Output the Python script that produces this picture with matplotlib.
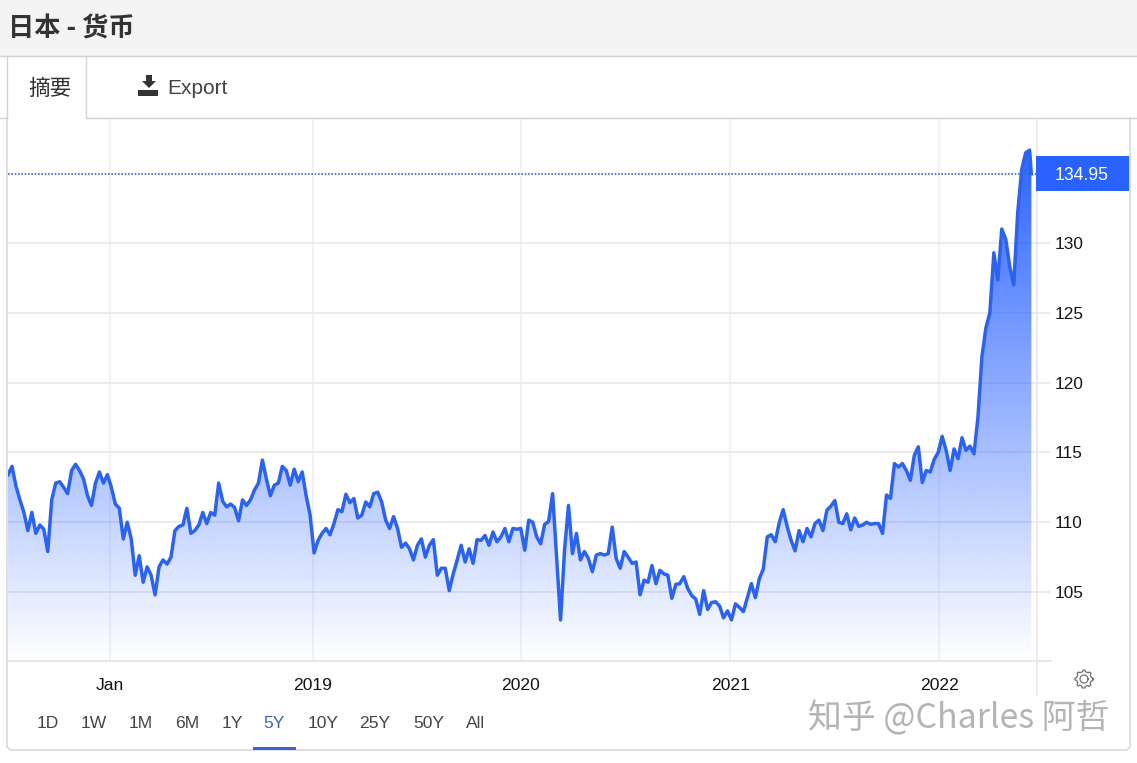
import matplotlib
matplotlib.use("Agg")
import matplotlib.pyplot as plt
import matplotlib.dates as mdates
from matplotlib.patches import Polygon, Rectangle
import numpy as np
import pandas as pd

plt.rcParams["font.family"] = ["Liberation Sans", "DejaVu Sans"]
CJK = ["Noto Sans CJK SC", "DejaVu Sans"]

# weekly USD/JPY, the last one is the latest quote
usd_jpy = [
    113.4, 114.0, 112.6, 111.6, 110.7, 109.4, 110.7, 109.2, 109.8, 109.5,
    107.9, 111.6, 112.8, 112.9, 112.5, 112.05, 113.7, 114.15, 113.7, 113.1,
    111.9, 111.2, 112.8, 113.6, 112.8, 113.4, 112.5, 111.3, 111.0, 108.8,
    110.0, 108.8, 106.2, 107.6, 105.7, 106.8, 106.2, 104.8, 106.8, 107.3,
    107.0, 107.5, 109.4, 109.7, 109.8, 111.0, 109.2, 109.4, 109.8, 110.7,
    109.9, 110.7, 110.5, 112.8, 111.5, 111.1, 111.3, 111.05, 110.1, 111.6,
    111.2, 111.6, 112.3, 112.8, 114.45, 113.1, 111.9, 112.65, 112.8, 114.0,
    113.7, 112.65, 113.8, 112.9, 113.6, 111.9, 110.5, 107.8, 108.7, 109.2,
    109.55, 109.1, 109.9, 110.9, 110.75, 112.0, 111.4, 111.7, 110.3, 110.5,
    111.45, 111.1, 112.05, 112.15, 111.45, 110.15, 109.55, 110.4, 109.55, 108.2,
    108.5, 108.1, 107.3, 108.35, 108.8, 107.5, 108.35, 108.75, 106.2, 106.7,
    106.7, 105.1, 106.3, 107.3, 108.35, 107.15, 108.1, 107.05, 108.75, 108.7,
    109.05, 108.35, 109.3, 108.6, 108.95, 109.55, 108.6, 109.55, 109.5, 109.55,
    108.0, 110.15, 110.0, 108.95, 108.45, 109.85, 110.05, 112.05, 107.5, 103.0,
    108.0, 111.2, 107.75, 109.2, 107.3, 107.9, 107.4, 106.45, 107.65, 107.75,
    107.65, 107.75, 109.65, 107.4, 106.7, 107.9, 107.5, 107.05, 107.15, 104.8,
    105.85, 105.7, 106.9, 105.6, 106.55, 106.3, 106.2, 104.55, 105.55, 105.6,
    106.1, 105.25, 104.75, 104.5, 103.4, 105.1, 103.75, 104.25, 104.3, 104.0,
    103.15, 103.65, 103.0, 104.15, 103.9, 103.6, 104.6, 105.6, 104.6, 105.95,
    106.65, 108.95, 109.1, 108.6, 109.95, 110.9, 109.7, 108.7, 107.95, 109.4,
    108.6, 109.55, 108.95, 109.9, 110.15, 109.4, 110.85, 111.15, 111.55, 110.0,
    109.9, 110.6, 109.45, 110.3, 109.7, 109.8, 110.0, 109.85, 109.9, 109.9,
    109.2, 111.95, 111.7, 114.2, 113.95, 114.2, 113.7, 113.0, 114.8, 115.4,
    112.85, 113.7, 113.6, 114.5, 115.0, 116.15, 115.15, 113.7, 115.25, 114.55,
    116.05, 115.15, 115.45, 114.9, 117.5, 121.85, 123.9, 125.0, 129.3, 127.35,
    131.0, 130.25, 128.3, 127.0, 132.15, 135.25, 136.45, 136.65, 134.95,
]
last_price = 134.95

start_date = pd.Timestamp("2017-07-06")
x_tick_dates = ["2018-01-01", "2018-12-25", "2019-12-26", "2020-12-29", "2022-01-01"]
x_tick_labels = ["Jan", "2019", "2020", "2021", "2022"]
y_ticks = [105, 110, 115, 120, 125, 130]
range_labels = ["1D", "1W", "1M", "6M", "1Y", "5Y", "10Y", "25Y", "50Y", "All"]
range_centers = [48, 94, 141, 187, 232, 274, 323, 375, 429, 476]

W, H = 1137, 763
BLUE = "#2962ff"
GRID = "#e7e7ea"

dates = [start_date + pd.Timedelta(days=7 * i) for i in range(len(usd_jpy) - 1)]
dates.append(dates[-1] + pd.Timedelta(days=3))
x = mdates.date2num(dates)
x0 = mdates.date2num(start_date)
x1 = x0 + 1812

fig = plt.figure(figsize=(W / 100, H / 100), dpi=100, facecolor="white")

# chart area, pixel box 8..1037 by 118..661
ax = fig.add_axes([8 / W, 1 - 661 / H, 1029 / W, 543 / H], zorder=2)
ax.patch.set_alpha(0)
for s in ax.spines.values():
    s.set_visible(False)
ax.set_xlim(x0, x1)
ax.set_ylim(100.06, 138.95)

ax.set_yticks(y_ticks)
ax.yaxis.tick_right()
ax.set_xticks(mdates.date2num(pd.to_datetime(x_tick_dates)))
ax.set_xticklabels(x_tick_labels)
ax.tick_params(axis="y", length=9.6, width=1.1, color=GRID, pad=3.2,
               labelsize=12.4, labelcolor="#151515")
ax.tick_params(axis="x", length=0, pad=12.2, labelsize=12.6, labelcolor="#111111")
ax.grid(axis="y", color=GRID, lw=1.2, zorder=0)
ax.grid(axis="x", color="#f2f3f6", lw=1.5, zorder=0)
ax.set_axisbelow(True)

# area under the line fades out towards the bottom
grad = np.zeros((256, 1, 4))
grad[:, :, :3] = matplotlib.colors.to_rgb(BLUE)
grad[:, 0, 3] = np.linspace(1, 0, 256)
img = ax.imshow(grad, aspect="auto", extent=(x0, x1, 100.06, 137.0),
                interpolation="bilinear", zorder=1)
area = Polygon(np.column_stack([np.r_[x, x[-1], x[0]], np.r_[usd_jpy, 100.06, 100.06]]),
               transform=ax.transData, facecolor="none", edgecolor="none")
ax.add_patch(area)
img.set_clip_path(area)
ax.set_xlim(x0, x1)
ax.set_ylim(100.06, 138.95)

ax.plot(x, usd_jpy, color="#2c63ee", lw=2.5, solid_joinstyle="round", zorder=3)
ax.axhline(last_price, color="#4068b0", lw=1.2, ls=(0, (1, 1)), zorder=4)

# page furniture around the chart, in pixels
ui = fig.add_axes([0, 0, 1, 1], zorder=3)
ui.set_xlim(0, W)
ui.set_ylim(H, 0)
ui.axis("off")
ui.patch.set_alpha(0)

LINE = "#d2d2d2"
ui.add_patch(Rectangle((0, 0), W, 56, facecolor="#f4f4f4", edgecolor="none"))
ui.plot([0, W], [56, 56], color=LINE, lw=1)
ui.plot([7, 7], [56, 118], color=LINE, lw=1)
ui.plot([86, 86], [56, 118], color=LINE, lw=1)
ui.plot([0, 7], [118, 118], color=LINE, lw=1)
ui.plot([86, W], [118, 118], color=LINE, lw=1)
ui.plot([7, 7, 10, 1127, 1130, 1130], [118, 747, 750, 750, 747, 118], color=LINE, lw=1)

ui.plot([1037, 1037], [118, 695], color=GRID, lw=1.2)
ui.plot([8, 1051], [661, 661], color=GRID, lw=1.4)

ui.text(8, 29, "日本 - 货币", family=CJK, fontsize=18.9, fontweight="bold",
        color="#333333", va="center", ha="left")
ui.text(50, 89, "摘要", family=CJK, fontsize=15.6, color="#333333", va="center", ha="center")
ui.text(167, 89, "Export", fontsize=15, color="#444444", va="center", ha="left")

# download icon
ui.add_patch(Polygon([(146, 75), (152, 75), (152, 81), (156, 81), (149, 88), (142, 81), (146, 81)],
                     facecolor="#333333", edgecolor="none"))
ui.add_patch(Rectangle((138, 90), 20, 6, facecolor="#333333", edgecolor="none"))

# latest price flag
ui.add_patch(Rectangle((1036, 156), 93, 35, facecolor=BLUE, edgecolor="none", zorder=3))
ui.text(1082, 176, f"{last_price:.2f}", color="white", fontsize=12.7, ha="center", va="center", zorder=4)

# range selector
for label, cx in zip(range_labels, range_centers):
    ui.text(cx, 724, label, fontsize=12.6, ha="center", va="center",
            color="#3f62c4" if label == "5Y" else "#444444")
ui.add_patch(Rectangle((253, 747), 43, 3, facecolor="#3a62d0", edgecolor="none", zorder=3))

# settings gear
a = np.linspace(0, 2 * np.pi, 65)
r = 9 - 1.6 * (np.cos(8 * a) < 0)
ui.plot(1084 + r * np.cos(a), 679 + r * np.sin(a), color="#707070", lw=0.9)
ui.plot(1084 + 4 * np.cos(a), 679 + 4 * np.sin(a), color="#707070", lw=0.9)

# watermark
ui.add_patch(Rectangle((800, 696), 320, 40, facecolor="white", edgecolor="none", zorder=3))
ui.text(808, 719, "知乎 @Charles 阿哲", family=CJK, fontsize=24.4, color="#b4b4b4",
        ha="left", va="center", zorder=4)

fig.savefig("out.png", dpi=100)
